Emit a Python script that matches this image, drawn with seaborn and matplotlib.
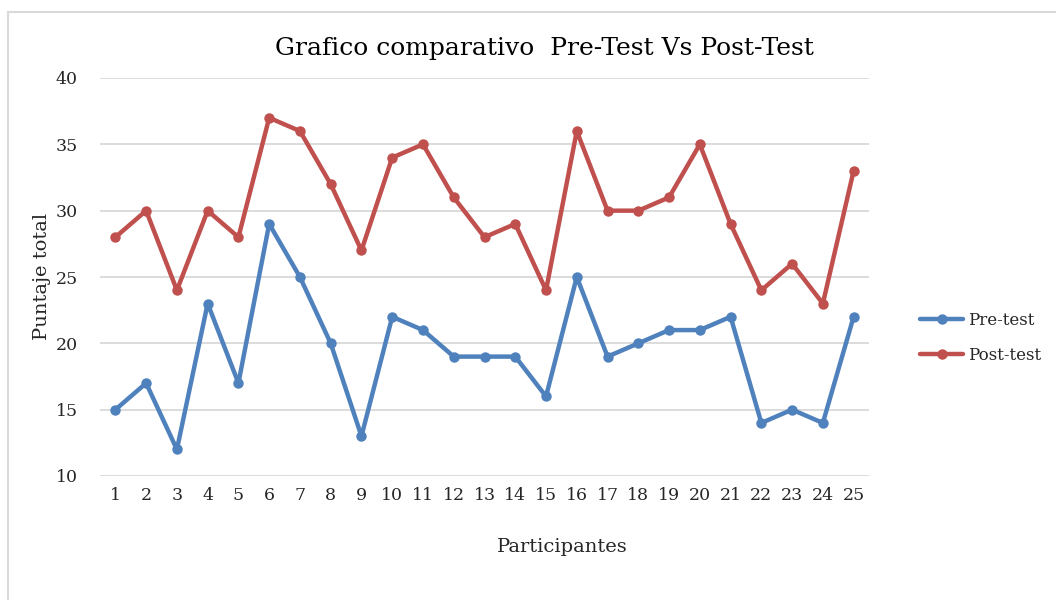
import matplotlib
matplotlib.use("Agg")
import matplotlib.pyplot as plt
import seaborn as sns
import pandas as pd
from matplotlib.patches import Rectangle
from matplotlib.lines import Line2D

participants = list(range(1, 26))
pre_test = [15, 17, 12, 23, 17, 29, 25, 20, 13, 22, 21, 19, 19, 19, 16, 25, 19, 20, 21, 21, 22, 14, 15, 14, 22]
post_test = [28, 30, 24, 30, 28, 37, 36, 32, 27, 34, 35, 31, 28, 29, 24, 36, 30, 30, 31, 35, 29, 24, 26, 23, 33]
y_ticks = [10, 15, 20, 25, 30, 35, 40]

df = pd.DataFrame({
    "Participantes": participants * 2,
    "Puntaje": pre_test + post_test,
    "Serie": ["Pre-test"] * 25 + ["Post-test"] * 25,
})

sns.set_theme(style="white")
plt.rcParams["font.family"] = ["DejaVu Serif"]

fig = plt.figure(figsize=(10.56, 6), dpi=100)
fig.patches.append(Rectangle((8 / 1056, -0.1), 1.2, 1 - 12 / 600 + 0.1, transform=fig.transFigure,
                             fill=False, edgecolor="#D9D9D9", linewidth=1.5))
ax = fig.add_axes([100 / 1056, 1 - 476 / 600, 769 / 1056, 398 / 600])

palette = {"Pre-test": "#4F81BD", "Post-test": "#C0504D"}
sns.lineplot(data=df, x="Participantes", y="Puntaje", hue="Serie", palette=palette,
             marker="o", markersize=7.5, markeredgewidth=0, linewidth=3.2, ax=ax, legend=False)

ax.set_xlim(0.5, 25.5)
ax.set_ylim(10, 40)
ax.set_yticks(y_ticks)
ax.set_xticks(participants)
ax.set_xticklabels([str(p) for p in participants])
ax.yaxis.grid(True, color="#D9D9D9", linewidth=1.3)
ax.xaxis.grid(False)
for s in ax.spines.values():
    s.set_visible(False)
ax.tick_params(axis="both", length=0, labelsize=12.5, colors="#262626", pad=8)
ax.tick_params(axis="y", pad=16)
ax.set_xlabel("Participantes", fontsize=14, color="#262626")
ax.xaxis.set_label_coords((562 - 100) / 769, -(547 - 476) / 398)
ax.xaxis.label.set_va("center")
ax.set_ylabel("Puntaje total", fontsize=14, color="#262626")
ax.yaxis.set_label_coords(-(100 - 42) / 769, (476 - 276) / 398)
ax.yaxis.label.set_va("center")
fig.text(544 / 1056, 1 - 48 / 600, "Grafico comparativo  Pre-Test Vs Post-Test", ha="center", va="center",
         fontsize=18, color="#000000")

handles = [Line2D([], [], color=palette[k], marker="o", markersize=7.5, markeredgewidth=0, linewidth=3.2)
           for k in ["Pre-test", "Post-test"]]
fig.legend(handles, ["Pre-test", "Post-test"], loc="center left", bbox_to_anchor=(905 / 1056, 1 - 338 / 600),
           frameon=False, fontsize=12, handlelength=2.6, handletextpad=0.3, labelspacing=1.05,
           labelcolor="#262626")

fig.savefig("out.png", dpi=100)
